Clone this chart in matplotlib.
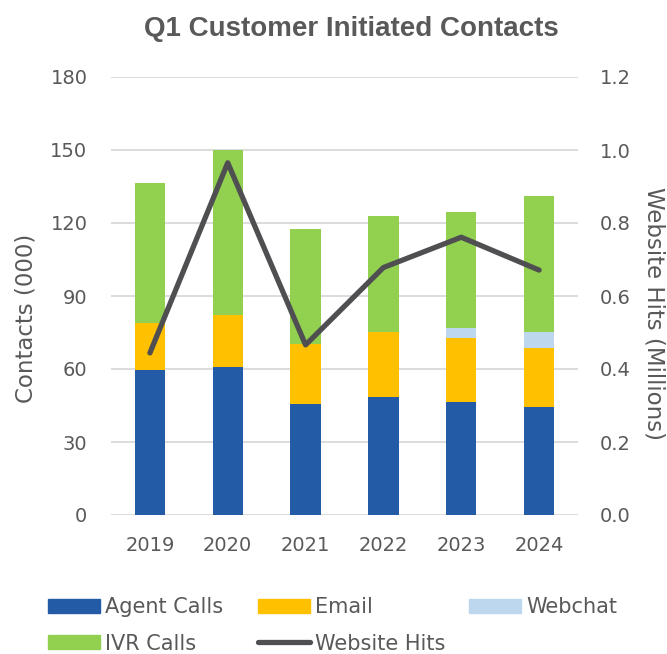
import matplotlib
matplotlib.use("Agg")
import matplotlib.pyplot as plt
import numpy as np
from matplotlib.patches import Patch
from matplotlib.lines import Line2D

years = ["2019", "2020", "2021", "2022", "2023", "2024"]
agent_calls = [59.6, 60.8, 45.6, 48.3, 46.4, 44.4]
email = [19.3, 21.4, 24.5, 26.9, 26.2, 24.1]
webchat = [0.0, 0.0, 0.0, 0.0, 4.3, 6.7]
ivr_calls = [57.5, 67.6, 47.4, 47.7, 47.6, 55.8]
website_hits = [0.444, 0.965, 0.466, 0.678, 0.761, 0.671]

left_ticks = [0, 30, 60, 90, 120, 150, 180]
right_ticks = [0.0, 0.2, 0.4, 0.6, 0.8, 1.0, 1.2]

c_agent = "#245BA7"
c_email = "#FFC000"
c_web = "#BDD7EE"
c_ivr = "#92D050"
c_line = "#4F4F52"
txt = "#595959"

plt.rcParams['font.family'] = ['DejaVu Sans']

W, H = 667, 654
fig = plt.figure(figsize=(W/100, H/100), dpi=100)
ax = fig.add_axes([111/W, 1-515/H, (578-111)/W, (515-77)/H])
x = np.arange(len(years))
w = 0.39
b1 = np.array(agent_calls)
b2 = b1 + np.array(email)
b3 = b2 + np.array(webchat)
ax.bar(x, agent_calls, w, color=c_agent, zorder=2)
ax.bar(x, email, w, bottom=b1, color=c_email, zorder=2)
ax.bar(x, webchat, w, bottom=b2, color=c_web, zorder=2)
ax.bar(x, ivr_calls, w, bottom=b3, color=c_ivr, zorder=2)

ax.set_xlim(-0.5, len(years) - 0.5)
ax.set_ylim(0, 180)
ax.set_yticks(left_ticks)
ax.set_xticks(x)
ax.set_xticklabels(years)
ax.grid(axis='y', color='#D9D9D9', linewidth=1.3, zorder=0)
ax.set_axisbelow(True)
for s in ax.spines.values():
    s.set_visible(False)
ax.tick_params(length=0, labelsize=14, colors=txt)
ax.tick_params(axis='x', pad=15)
ax.tick_params(axis='y', pad=17)

ax2 = ax.twinx()
ax2.plot(x, website_hits, color=c_line, linewidth=3.8, solid_capstyle='round', zorder=3)
ax2.set_ylim(0, 1.2)
ax2.set_yticks(right_ticks)
ax2.set_yticklabels([f"{v:.1f}" for v in right_ticks])
for s in ax2.spines.values():
    s.set_visible(False)
ax2.tick_params(length=0, labelsize=14, colors=txt, pad=16)

fig.text(26/W, 1-318/H, "Contacts (000)", rotation=90, ha='center', va='center',
         fontsize=16.5, color=txt)
fig.text(654/W, 1-314/H, "Website Hits (Millions)", rotation=270, ha='center', va='center',
         fontsize=16.5, color=txt)

fig.text(351/W, 1-29/H, "Q1 Customer Initiated Contacts", ha='center', va='center',
         fontsize=20, fontweight='bold', color=txt, family=['Liberation Sans', 'DejaVu Sans'])

h_agent = Patch(color=c_agent)
h_email = Patch(color=c_email)
h_web = Patch(color=c_web)
h_ivr = Patch(color=c_ivr)
h_line = Line2D([0], [0], color=c_line, linewidth=3.8, solid_capstyle='round')
columns = [
    ([h_agent, h_ivr], ["Agent Calls", "IVR Calls"], 48),
    ([h_email, h_line], ["Email", "Website Hits"], 258),
    ([h_web], ["Webchat"], 469),
]
for hs, ls, xl in columns:
    leg = fig.legend(hs, ls, loc='upper left', bbox_to_anchor=(xl/W, 1-597/H),
                     frameon=False, fontsize=15, labelcolor=txt, handlelength=2.5,
                     handleheight=0.67, handletextpad=0.25, labelspacing=0.8,
                     borderpad=0, borderaxespad=0)

fig.savefig("out.png", dpi=100)
